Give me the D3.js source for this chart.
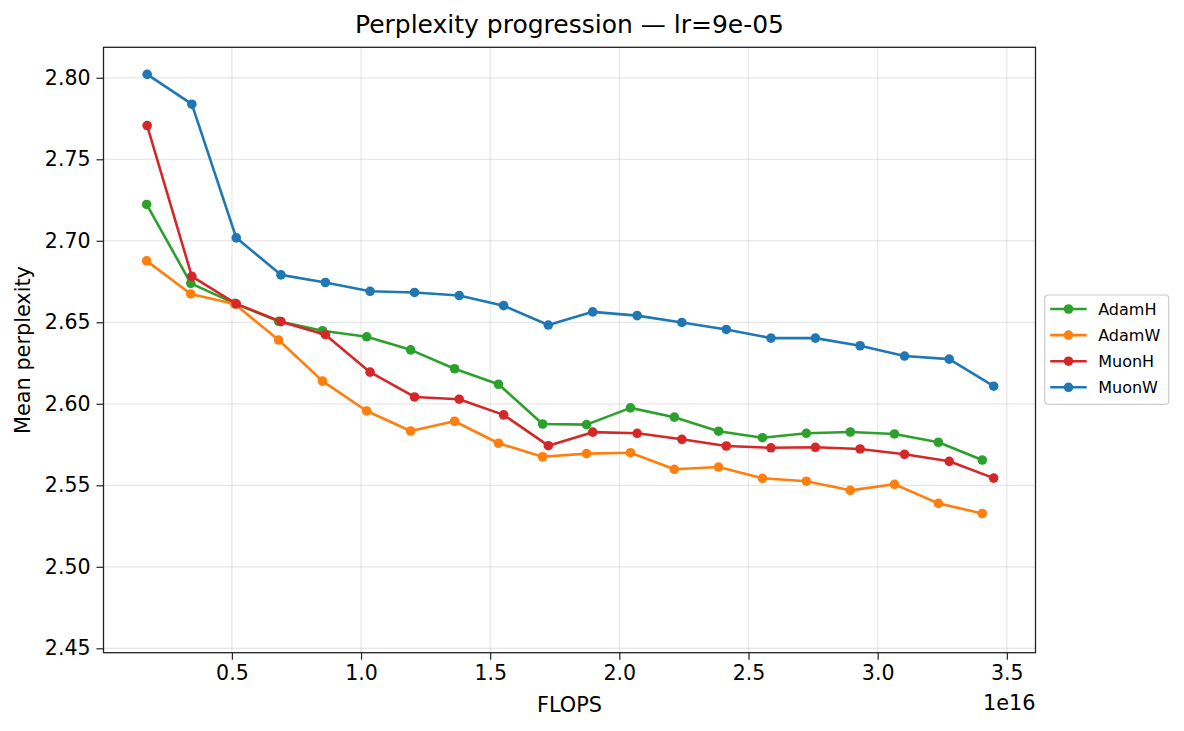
<!DOCTYPE html>
<html>
<head>
<meta charset="utf-8">
<script src="https://d3js.org/d3.v7.min.js"></script>
<style>
  body { margin: 0; background: #fff; }
  text { font-family: "DejaVu Sans", sans-serif; fill: #000; }
</style>
</head>
<body>
<svg id="chart" width="1184" height="731"></svg>
<script>
// FLOPS (in units of 1e16) for each run
var flopsAdam = [0.170, 0.341, 0.511, 0.681, 0.851, 1.022, 1.192, 1.362, 1.532, 1.703,
                 1.873, 2.043, 2.213, 2.384, 2.554, 2.724, 2.894, 3.065, 3.235, 3.405];
var flopsMuon = [0.172, 0.345, 0.517, 0.690, 0.862, 1.035, 1.207, 1.380, 1.552, 1.725,
                 1.897, 2.069, 2.242, 2.414, 2.587, 2.759, 2.932, 3.104, 3.277, 3.449];

// mean perplexity
var adamH = [2.7223, 2.6739, 2.6616, 2.6506, 2.6448, 2.6411, 2.6331, 2.6215, 2.6120, 2.5876,
             2.5872, 2.5975, 2.5918, 2.5832, 2.5792, 2.5819, 2.5827, 2.5815, 2.5764, 2.5655];
var adamW = [2.6877, 2.6674, 2.6612, 2.6391, 2.6139, 2.5956, 2.5833, 2.5893, 2.5758, 2.5675,
             2.5694, 2.5700, 2.5598, 2.5612, 2.5543, 2.5525, 2.5469, 2.5506, 2.5389, 2.5327];
var muonH = [2.7707, 2.6782, 2.6613, 2.6504, 2.6424, 2.6194, 2.6042, 2.6028, 2.5932, 2.5743,
             2.5826, 2.5819, 2.5782, 2.5741, 2.5730, 2.5733, 2.5723, 2.5690, 2.5647, 2.5544];
var muonW = [2.8021, 2.7838, 2.7018, 2.6791, 2.6744, 2.6690, 2.6683, 2.6664, 2.6602, 2.6483,
             2.6564, 2.6541, 2.6499, 2.6456, 2.6403, 2.6403, 2.6356, 2.6293, 2.6274, 2.6108];

var seriesNames = ["AdamH", "AdamW", "MuonH", "MuonW"];
var seriesColors = ["#2ca02c", "#ff7f0e", "#d62728", "#1f77b4"];
var xTicks = [0.5, 1.0, 1.5, 2.0, 2.5, 3.0, 3.5];
var yTicks = [2.45, 2.50, 2.55, 2.60, 2.65, 2.70, 2.75, 2.80];

var series = [
  {name: seriesNames[0], color: seriesColors[0], x: flopsAdam, y: adamH},
  {name: seriesNames[1], color: seriesColors[1], x: flopsAdam, y: adamW},
  {name: seriesNames[2], color: seriesColors[2], x: flopsMuon, y: muonH},
  {name: seriesNames[3], color: seriesColors[3], x: flopsMuon, y: muonW}
];

var svg = d3.select("#chart");
var plotL = 103.5, plotR = 1035.5, plotT = 47.3, plotB = 652.7;

var x = d3.scaleLinear().domain([0.003, 3.611]).range([plotL, plotR]);
var y = d3.scaleLinear().domain([2.4473, 2.8187]).range([plotB, plotT]);

// grid
var grid = svg.append("g");
grid.selectAll(".gx").data(xTicks).enter().append("line")
  .attr("x1", d => x(d)).attr("x2", d => x(d))
  .attr("y1", plotT).attr("y2", plotB)
  .attr("stroke", "#b0b0b0").attr("stroke-opacity", 0.3).attr("stroke-width", 1.2);
grid.selectAll(".gy").data(yTicks).enter().append("line")
  .attr("x1", plotL).attr("x2", plotR)
  .attr("y1", d => y(d)).attr("y2", d => y(d))
  .attr("stroke", "#b0b0b0").attr("stroke-opacity", 0.3).attr("stroke-width", 1.2);

// axes
var xAxis = d3.axisBottom(x).tickValues(xTicks).tickFormat(d3.format(".1f")).tickSize(7).tickPadding(6);
var yAxis = d3.axisLeft(y).tickValues(yTicks).tickFormat(d3.format(".2f")).tickSize(7).tickPadding(6);

var gx = svg.append("g").attr("transform", "translate(0," + plotB + ")").call(xAxis);
var gy = svg.append("g").attr("transform", "translate(" + plotL + ",0)").call(yAxis);
[gx, gy].forEach(function (g) {
  g.select(".domain").remove();
  g.selectAll(".tick line").attr("stroke", "#222").attr("stroke-width", 1.2);
  g.selectAll(".tick text").style("font-size", "20.5px").style("font-family", "DejaVu Sans").attr("fill", "#000");
});

// lines + markers
var line = d3.line().x(d => x(d[0])).y(d => y(d[1]));
series.forEach(function (s) {
  var pts = s.x.map((v, i) => [v, s.y[i]]);
  svg.append("path")
    .datum(pts)
    .attr("d", line)
    .attr("fill", "none")
    .attr("stroke", s.color)
    .attr("stroke-width", 2.6)
    .attr("stroke-linejoin", "round");
  svg.append("g").selectAll("circle")
    .data(pts)
    .enter()
    .append("circle")
    .attr("cx", d => x(d[0]))
    .attr("cy", d => y(d[1]))
    .attr("r", 4.8)
    .attr("fill", s.color);
});

// frame
svg.append("rect")
  .attr("x", plotL).attr("y", plotT)
  .attr("width", plotR - plotL).attr("height", plotB - plotT)
  .attr("fill", "none").attr("stroke", "#222").attr("stroke-width", 1.3);

// labels
svg.append("text")
  .attr("x", (plotL + plotR) / 2).attr("y", 33)
  .attr("text-anchor", "middle")
  .style("font-size", "25px")
  .text("Perplexity progression \u2014 lr=9e-05");

svg.append("text")
  .attr("x", (plotL + plotR) / 2).attr("y", 711.5)
  .attr("text-anchor", "middle")
  .style("font-size", "20.8px")
  .text("FLOPS");

svg.append("text")
  .attr("x", plotR).attr("y", 710)
  .attr("text-anchor", "end")
  .style("font-size", "20.8px")
  .text("1e16");

svg.append("text")
  .attr("transform", "translate(30," + (plotT + plotB) / 2 + ") rotate(-90)")
  .attr("text-anchor", "middle")
  .style("font-size", "20.8px")
  .text("Mean perplexity");

// legend
var legend = svg.append("g").attr("transform", "translate(1044.7,295)");
legend.append("rect")
  .attr("width", 124).attr("height", 109.3)
  .attr("rx", 3.5)
  .attr("fill", "#fff").attr("fill-opacity", 0.8)
  .attr("stroke", "#cccccc").attr("stroke-width", 1.2);

var items = legend.selectAll(".item")
  .data(series)
  .enter()
  .append("g")
  .attr("transform", (d, i) => "translate(0," + (14 + i * 26.1) + ")");
items.append("line")
  .attr("x1", 5.5).attr("x2", 42)
  .attr("stroke", d => d.color).attr("stroke-width", 2.6);
items.append("circle")
  .attr("cx", 23.8).attr("r", 4.8)
  .attr("fill", d => d.color);
items.append("text")
  .attr("x", 53.5)
  .attr("dy", "0.36em")
  .style("font-size", "16px")
  .text(d => d.name);
</script>
</body>
</html>
